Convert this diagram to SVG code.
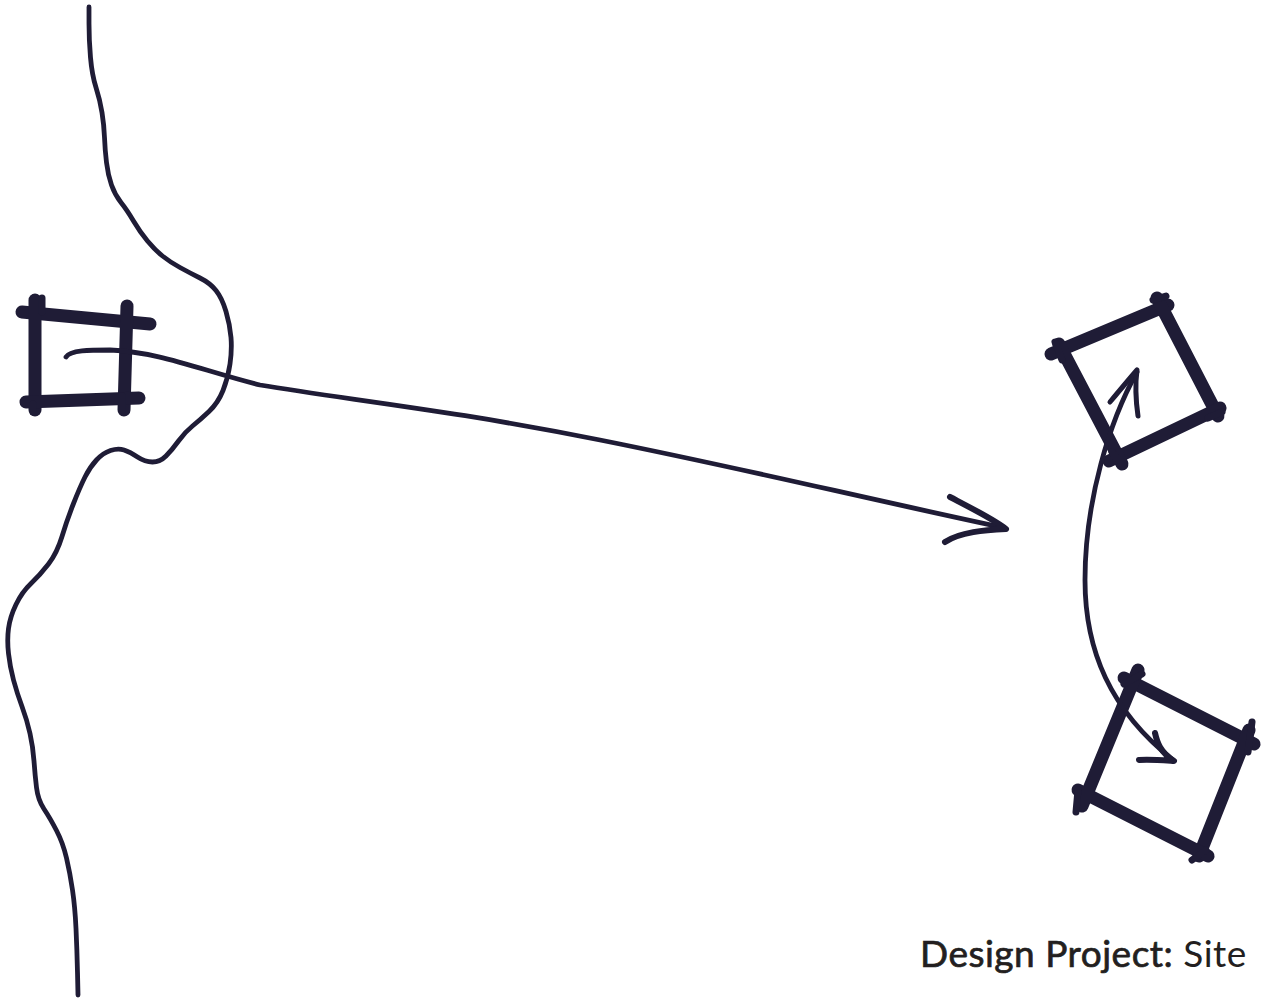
<svg xmlns="http://www.w3.org/2000/svg" width="1274" height="998" viewBox="0 0 1274 998">
<style>
.ink{fill:none;stroke:#1f1c36;stroke-linecap:round;stroke-linejoin:round}
.thin{stroke-width:4.8}
.thick{stroke-width:13}
.tick{stroke-width:7}
.label{font-family:Lato,"Noto Sans",sans-serif;font-size:37px;fill:#231f20;letter-spacing:0.5px}
.medium{stroke:#231f20;stroke-width:0.7px}
</style>
<rect width="1274" height="998" fill="#ffffff"/>
<g id="coastline">
<path class="ink thin" d="M89,7 L89,23.5 Q89,40 90.5,57.5 Q92,75 96,87.5 Q100,100 102,112.5 Q104,125 104.5,137.5 Q105,150 106.5,162.5 Q108,175 111.5,185 Q115,195 121,202.5 Q127,210 133.5,221 Q140,232 147.5,241 Q155,250 162.5,256 Q170,262 180,267.5 Q190,273 200,278 Q210,283 216,290.5 Q222,298 226,311.5 Q230,325 231,337.5 Q232,350 230,364 Q228,378 223,390.5 Q218,403 209,411.5 Q200,420 192.5,426 Q185,432 178.5,441 Q172,450 166,456 Q160,462 152.5,462 Q145,462 137.5,457 Q130,452 124,450 Q118,448 110.5,450.5 Q103,453 96.5,460 Q90,467 85,477 Q80,487 73.5,503.5 Q67,520 62,536.5 Q57,553 48.5,564 Q40,575 31,583.5 Q22,592 16,604.5 Q10,617 8.5,628.5 Q7,640 8.5,653.5 Q10,667 13.5,680 Q17,693 22,706.5 Q27,720 30,733.5 Q33,747 34,761 Q35,775 36.5,787.5 Q38,800 44,809 Q50,818 56.5,830.5 Q63,843 66.5,858 Q70,873 72.5,890 Q75,907 76,928.5 Q77,950 77.5,972.5 L78,995"/>
</g>
<g id="node-origin">
<path class="ink thick" d="M22,312 L150,324"/>
<path class="ink thick" d="M35,300 L35,410"/>
<path class="ink thick" d="M127,306 L124,410"/>
<path class="ink thick" d="M26,402 L139,398"/>
<path class="ink tick" d="M42,298 L42,312 M33,404 L33,412 M122,396 L122,410"/>
</g>
<g id="node-site-a">
<path class="ink thick" d="M1051,354 L1168,305"/>
<path class="ink thick" d="M1157,298 L1218,416"/>
<path class="ink thick" d="M1220,408 L1109,461"/>
<path class="ink thick" d="M1059,344 L1122,464"/>
<path class="ink tick" d="M1055,342 L1062,360 M1153,300 L1166,296 M1208,418 L1222,412 M1112,452 L1124,466"/>
</g>
<g id="node-site-b">
<path class="ink thick" d="M1124,678 L1254,744"/>
<path class="ink thick" d="M1249,730 L1199,856"/>
<path class="ink thick" d="M1208,856 L1078,790"/>
<path class="ink thick" d="M1138,670 L1082,806"/>
<path class="ink tick" d="M1124,684 L1142,674 M1252,722 L1248,752 M1192,860 L1206,850 M1078,790 L1076,812"/>
</g>
<g id="connectors">
<path class="ink thin" d="M66,357 C70,350 90,350 110,350 C160,352 200,370 260,385 C350,400 450,410 600,440 C750,470 850,495 1005,528"/>
<path class="ink" stroke-width="6" d="M950,497 C975,510 995,520 1006,529 C985,530 960,532 945,542"/>
<path class="ink thin" d="M1137,372 C1110,420 1085,500 1085,580 C1085,650 1110,710 1173,760"/>
<path class="ink" stroke-width="5" d="M1110,402 C1120,390 1130,378 1137,370 C1135,385 1136,402 1138,416"/>
<path class="ink" stroke-width="6" d="M1155,733 C1157,742 1160,752 1174,761 C1160,760 1148,759 1139,760"/>
</g>
<g id="title">
<text class="label" x="920" y="967"><tspan class="medium">Design Project:</tspan> Site</text>
</g>
</svg>
